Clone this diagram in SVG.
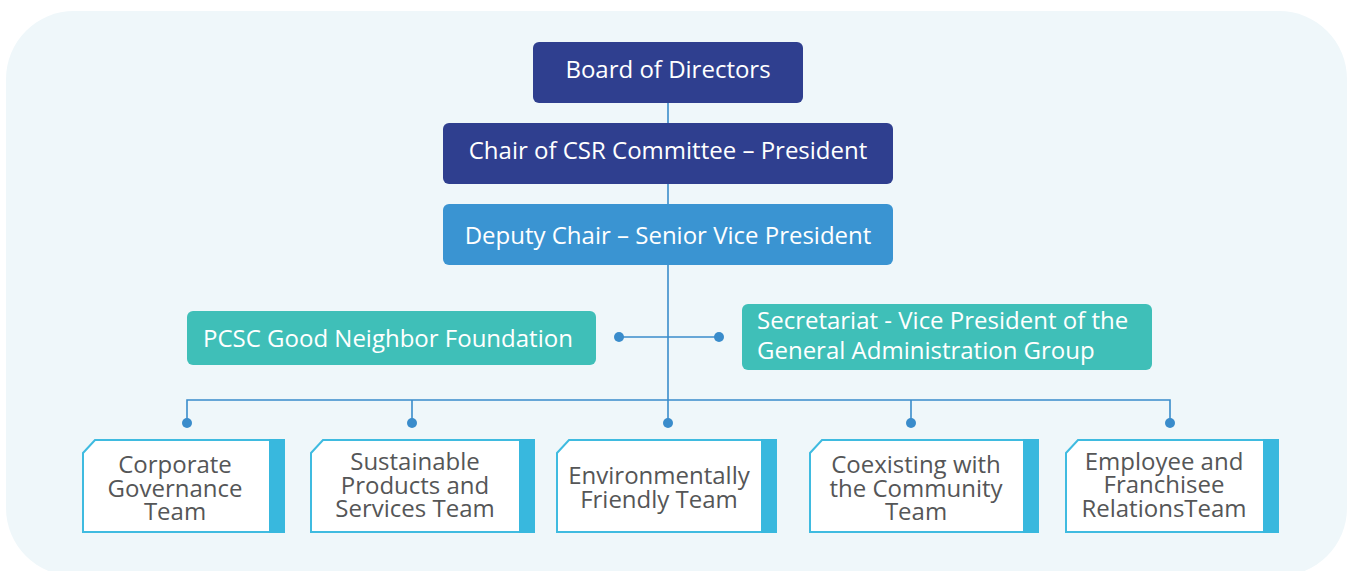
<svg xmlns="http://www.w3.org/2000/svg" width="1352" height="571" viewBox="0 0 1352 571">
  <style>
    .lbl { font-family: "Open Sans", "Noto Sans", "Liberation Sans", sans-serif; font-size: 24px; font-weight: 500; fill: #ffffff; }
    .team { font-family: "Open Sans", "Noto Sans", "Liberation Sans", sans-serif; font-size: 24px; font-weight: 500; fill: #555657; text-anchor: middle; }
    .mid { text-anchor: middle; }
    .navy { fill: #2f3f8f; }
    .blue { fill: #3a94d2; }
    .teal { fill: #3fbfb8; }
    .card { fill: #ffffff; stroke: #3fbbe0; stroke-width: 2; }
    .stripe { fill: #38b8de; }
    .wire { fill: none; stroke: #3a8ccb; stroke-width: 1.6; }
    .dot { fill: #3a8ccb; }
  </style>

  <!-- backdrop panel -->
  <rect x="6" y="11" width="1341" height="565" rx="68" ry="68" fill="#eff7fa"/>

  <!-- connectors -->
  <g id="connectors">
    <path class="wire" d="M668,103 V423"/>
    <path class="wire" d="M187,423 V400 H1170 V423"/>
    <path class="wire" d="M412,400 V423 M911,400 V423"/>
    <path class="wire" d="M619,337 H719"/>
    <circle class="dot" cx="619" cy="337" r="5"/>
    <circle class="dot" cx="719" cy="337" r="5"/>
    <circle class="dot" cx="187" cy="423" r="5"/>
    <circle class="dot" cx="412" cy="423" r="5"/>
    <circle class="dot" cx="668" cy="423" r="5"/>
    <circle class="dot" cx="911" cy="423" r="5"/>
    <circle class="dot" cx="1170" cy="423" r="5"/>
  </g>

  <!-- leadership chain -->
  <g id="board">
    <rect class="navy" x="533" y="42" width="270" height="61" rx="6"/>
    <text class="lbl mid" x="668" y="78">Board of Directors</text>
  </g>
  <g id="chair">
    <rect class="navy" x="443" y="123" width="450" height="61" rx="6"/>
    <text class="lbl mid" x="668" y="159">Chair of CSR Committee – President</text>
  </g>
  <g id="deputy">
    <rect class="blue" x="443" y="204" width="450" height="61" rx="6"/>
    <text class="lbl mid" x="668" y="244">Deputy Chair – Senior Vice President</text>
  </g>

  <!-- side units -->
  <g id="foundation">
    <rect class="teal" x="187" y="311" width="409" height="54" rx="6"/>
    <text class="lbl" x="203" y="347">PCSC Good Neighbor Foundation</text>
  </g>
  <g id="secretariat">
    <rect class="teal" x="742" y="304" width="410" height="66" rx="6"/>
    <text class="lbl" x="757" y="329">Secretariat - Vice President of the</text>
    <text class="lbl" x="757" y="359">General Administration Group</text>
  </g>

  <!-- teams -->
  <g id="team-governance">
    <path class="card" d="M83,453 L95,440 H284 V532 H83 Z"/>
    <rect class="stripe" x="269" y="439" width="16" height="94"/>
    <text class="team" x="175" y="473">Corporate</text>
    <text class="team" x="175" y="497">Governance</text>
    <text class="team" x="175" y="520">Team</text>
  </g>
  <g id="team-products">
    <path class="card" d="M311,453 L323,440 H534 V532 H311 Z"/>
    <rect class="stripe" x="519" y="439" width="16" height="94"/>
    <text class="team" x="415" y="470">Sustainable</text>
    <text class="team" x="415" y="494">Products and</text>
    <text class="team" x="415" y="517">Services Team</text>
  </g>
  <g id="team-environment">
    <path class="card" d="M557,453 L569,440 H776 V532 H557 Z"/>
    <rect class="stripe" x="761" y="439" width="16" height="94"/>
    <text class="team" x="659" y="484">Environmentally</text>
    <text class="team" x="659" y="508">Friendly Team</text>
  </g>
  <g id="team-community">
    <path class="card" d="M810,453 L822,440 H1038 V532 H810 Z"/>
    <rect class="stripe" x="1023" y="439" width="16" height="94"/>
    <text class="team" x="916" y="473">Coexisting with</text>
    <text class="team" x="916" y="497">the Community</text>
    <text class="team" x="916" y="520">Team</text>
  </g>
  <g id="team-employee">
    <path class="card" d="M1066,453 L1078,440 H1278 V532 H1066 Z"/>
    <rect class="stripe" x="1263" y="439" width="16" height="94"/>
    <text class="team" x="1164" y="470">Employee and</text>
    <text class="team" x="1164" y="493">Franchisee</text>
    <text class="team" x="1164" y="517">RelationsTeam</text>
  </g>
</svg>
